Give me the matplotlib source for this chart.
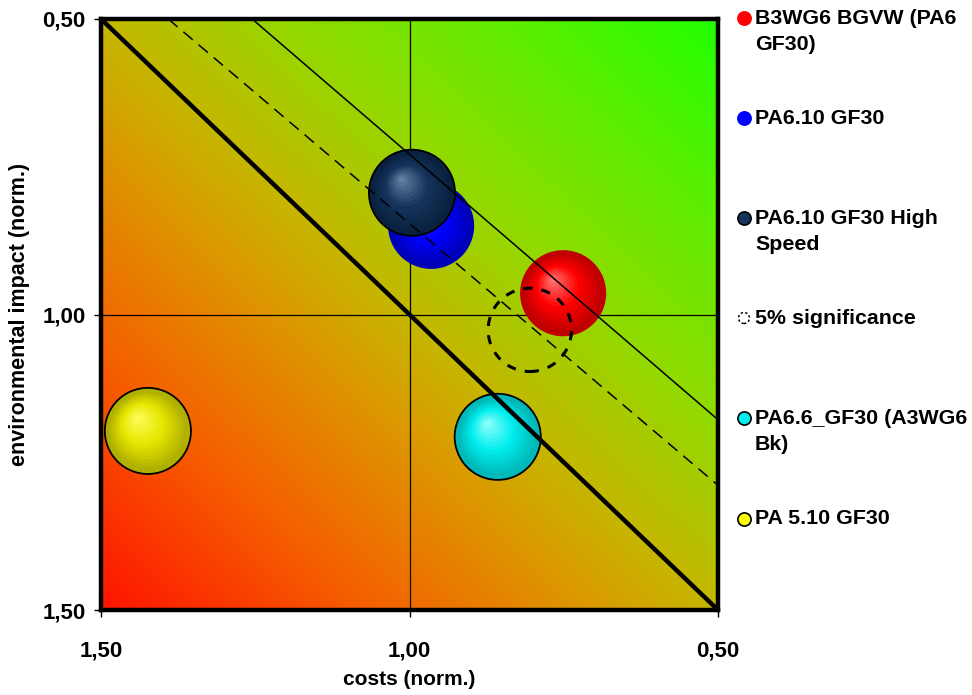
import numpy as np
import matplotlib
matplotlib.use("Agg")
import matplotlib.pyplot as plt
from matplotlib.colors import LinearSegmentedColormap, to_rgb
from matplotlib import transforms
from matplotlib.lines import Line2D
from matplotlib.patches import Circle

plt.rcParams['font.family'] = ['Liberation Sans', 'DejaVu Sans']

# ---------------- data ----------------
names = ["B3WG6 BGVW (PA6\nGF30)", "PA6.10 GF30", "PA6.10 GF30 High\nSpeed",
         "PA6.6_GF30 (A3WG6\nBk)", "PA 5.10 GF30"]
costs = [0.751, 0.965, 0.996, 0.857, 1.424]
impact = [0.964, 0.850, 0.794, 1.207, 1.197]
sig_label = "5% significance"
sig_cost = [0.805]
sig_impact = [1.026]

# reference lines (start / end points in data units)
thick_x = [1.50, 0.50]
thick_y = [0.50, 1.50]
thin_x = [1.255, 0.50]
thin_y = [0.50, 1.178]
dash_x = [1.391, 0.50]
dash_y = [0.50, 1.289]

ticks = [0.5, 1.0, 1.5]
tick_labels = ["0,50", "1,00", "1,50"]

# ---------------- style ----------------
W, H = 972, 695
fig = plt.figure(figsize=(W / 100, H / 100), dpi=100)
ax = fig.add_axes([101 / W, 1 - 610 / H, 617 / W, 591 / H])

ax.set_xlim(1.5, 0.5)
ax.set_ylim(1.5, 0.5)

# background gradient (red bottom-left -> green top-right)
cmap = LinearSegmentedColormap.from_list("bg", [
    (0.00, (1.00, 0.08, 0.00)),
    (0.22, (0.96, 0.38, 0.00)),
    (0.40, (0.86, 0.60, 0.00)),
    (0.50, (0.77, 0.72, 0.00)),
    (0.65, (0.58, 0.85, 0.00)),
    (0.82, (0.38, 0.93, 0.00)),
    (1.00, (0.13, 1.00, 0.00)),
])
gx, gy = np.meshgrid(np.linspace(0, 1, 300), np.linspace(0, 1, 300))
grad = (gx + (1 - gy)) / 2.0
ax.imshow(grad, extent=[1.5, 0.5, 1.5, 0.5], origin="upper", cmap=cmap,
          vmin=0, vmax=1, aspect="auto", zorder=0, interpolation="bilinear")

# grid at 1.00
ax.axvline(1.0, color="black", lw=0.9, zorder=1)
ax.axhline(1.0, color="black", lw=0.9, zorder=1)

bubble_styles = [
    dict(outer="#c00000", mid="#ff0000", hi="#ff8080", edge=None),
    dict(outer="#0000b8", mid="#0000ff", hi="#3030ff", edge=None),
    dict(outer="#0a2240", mid="#15345c", hi="#6a8aa8", edge="black"),
    dict(outer="#00b8b8", mid="#00eeee", hi="#a0ffff", edge="black"),
    dict(outer="#b0b000", mid="#e6e600", hi="#ffff60", edge="black"),
]
R_PT = 31.0  # bubble radius in points
N = 14

def mix(a, b, t):
    a = np.array(to_rgb(a)); b = np.array(to_rgb(b))
    return tuple(a + (b - a) * t)

for x, y, st in zip(costs, impact, bubble_styles):
    ax.scatter([x], [y], s=(2 * R_PT) ** 2, color=st["outer"],
               edgecolors="none", zorder=3)
    for k in range(1, N):
        f = 1 - k / N
        t = k / N
        col = mix(st["outer"], st["mid"], min(1, t * 2.2)) if t < 0.45 else \
            mix(st["mid"], st["hi"], (t - 0.45) / 0.55)
        dx = -8.0 * (1 - f)
        dy = 10.0 * (1 - f)
        tr = transforms.offset_copy(ax.transData, fig=fig, x=dx, y=dy, units="points")
        ax.scatter([x], [y], s=(2 * R_PT * f * 0.93) ** 2, color=col,
                   edgecolors="none", transform=tr, zorder=3)
    if st["edge"]:
        ax.scatter([x], [y], s=(2 * R_PT) ** 2, facecolors="none",
                   edgecolors=st["edge"], linewidths=1.3, zorder=3.5)

# significance circle
ax.scatter(sig_cost, sig_impact, s=(2 * 30.0) ** 2, facecolors="none",
           edgecolors="black", linewidths=2.2, linestyle=(0, (3, 3)), zorder=5)

# lines
ax.plot(thick_x, thick_y, color="black", lw=3.2, zorder=4, solid_capstyle="butt")
ax.plot(thin_x, thin_y, color="black", lw=1.1, zorder=4)
ax.plot(dash_x, dash_y, color="black", lw=1.1, ls=(0, (8, 5)), zorder=4)

# axes styling
for sp in ax.spines.values():
    sp.set_linewidth(3.2)
    sp.set_color("black")
    sp.set_zorder(6)
ax.set_xticks(ticks)
ax.set_xticklabels(tick_labels)
ax.set_yticks(ticks)
ax.set_yticklabels(tick_labels)
ax.tick_params(direction="out", length=5, width=1, labelsize=16)
ax.tick_params(axis="x", pad=17)
ax.tick_params(axis="y", pad=6)
for lab in ax.get_xticklabels() + ax.get_yticklabels():
    lab.set_fontweight("bold")
ax.set_xlabel("costs (norm.)", fontsize=15, fontweight="bold")
ax.xaxis.set_label_coords(0.5, -0.102)
ax.set_ylabel("environmental impact (norm.)", fontsize=15.5, fontweight="bold", labelpad=9)

# legend (manual, in figure pixels)
leg_y = [18, 118, 218, 418, 519]
leg_colors = ["#ff0000", "#0000ff", "#15345c", "#00eeee", "#ffff00"]
leg_edges = ["#ff0000", "#0000ff", "black", "black", "black"]
mx, tx = 744, 755
for lab, yy, c, e in zip(names, leg_y, leg_colors, leg_edges):
    fig.add_artist(Line2D([mx / W], [1 - yy / H], marker="o", markersize=9.5,
                          markerfacecolor=c, markeredgecolor=e, markeredgewidth=1.2,
                          transform=fig.transFigure, linestyle="none"))
    for i, line in enumerate(lab.split("\n")):
        fig.text(tx / W, 1 - (yy + 26 * i) / H, line, fontsize=15.4, fontweight="bold",
                 va="center", ha="left")
fig.add_artist(Circle((mx / 100, (H - 318) / 100), 0.055, transform=fig.dpi_scale_trans,
                      facecolor="none", edgecolor="black", lw=1.1, linestyle=(0, (1.5, 1.5))))
fig.text(tx / W, 1 - 318 / H, sig_label, fontsize=15.4, fontweight="bold", va="center", ha="left")

fig.savefig("out.png", dpi=100)
